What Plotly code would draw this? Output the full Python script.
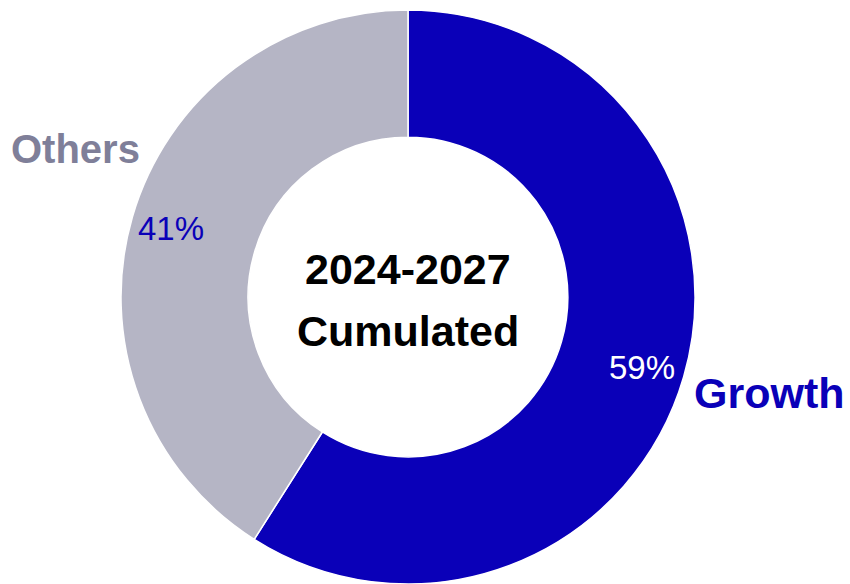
import plotly.graph_objects as go

# Share of cumulated spending, 2024-2027
segments = ["Growth", "Others"]
shares = [59, 41]
slice_colors = ["#0a00b8", "#b5b5c5"]
value_text_colors = ["#ffffff", "#0a00b8"]
segment_label_colors = ["#0a00b8", "#7f7f99"]
segment_label_sizes = [43, 40]
center_lines = ["2024-2027", "Cumulated"]

W, H = 850, 584
FONT = "Liberation Sans, Arial, sans-serif"

fig = go.Figure(
    go.Pie(
        labels=segments,
        values=shares,
        hole=0.557,
        sort=False,
        direction="clockwise",
        rotation=0,
        marker=dict(colors=slice_colors, line=dict(color="#ffffff", width=1.5)),
        textinfo="none",
        showlegend=False,
        hoverinfo="label+percent",
        domain=dict(x=[0, 816 / W], y=[0, 574 / H]),
    )
)

# Percentages on the ring
value_pos = {"Growth": (642, 367), "Others": (171, 229)}
for name, val, col in zip(segments, shares, value_text_colors):
    px, py = value_pos[name]
    fig.add_annotation(
        x=px / W, y=1 - py / H, xref="paper", yref="paper",
        text=f"{val}%", showarrow=False,
        font=dict(family=FONT, size=33, color=col),
        xanchor="center", yanchor="middle",
    )

# Segment names outside the ring
label_pos = {"Growth": (769, 393), "Others": (75, 149)}
for name, col, sz in zip(segments, segment_label_colors, segment_label_sizes):
    px, py = label_pos[name]
    fig.add_annotation(
        x=px / W, y=1 - py / H, xref="paper", yref="paper",
        text=f"<b>{name}</b>", showarrow=False,
        font=dict(family=FONT, size=sz, color=col),
        xanchor="center", yanchor="middle",
    )

# Title in the hole
for text, py in zip(center_lines, [269, 331]):
    fig.add_annotation(
        x=408 / W, y=1 - py / H, xref="paper", yref="paper",
        text=f"<b>{text}</b>", showarrow=False,
        font=dict(family=FONT, size=43, color="#000000"),
        xanchor="center", yanchor="middle",
    )

fig.update_layout(
    width=W, height=H,
    margin=dict(l=0, r=0, t=0, b=0),
    paper_bgcolor="#ffffff",
    plot_bgcolor="#ffffff",
)

fig.write_html("out.html")
